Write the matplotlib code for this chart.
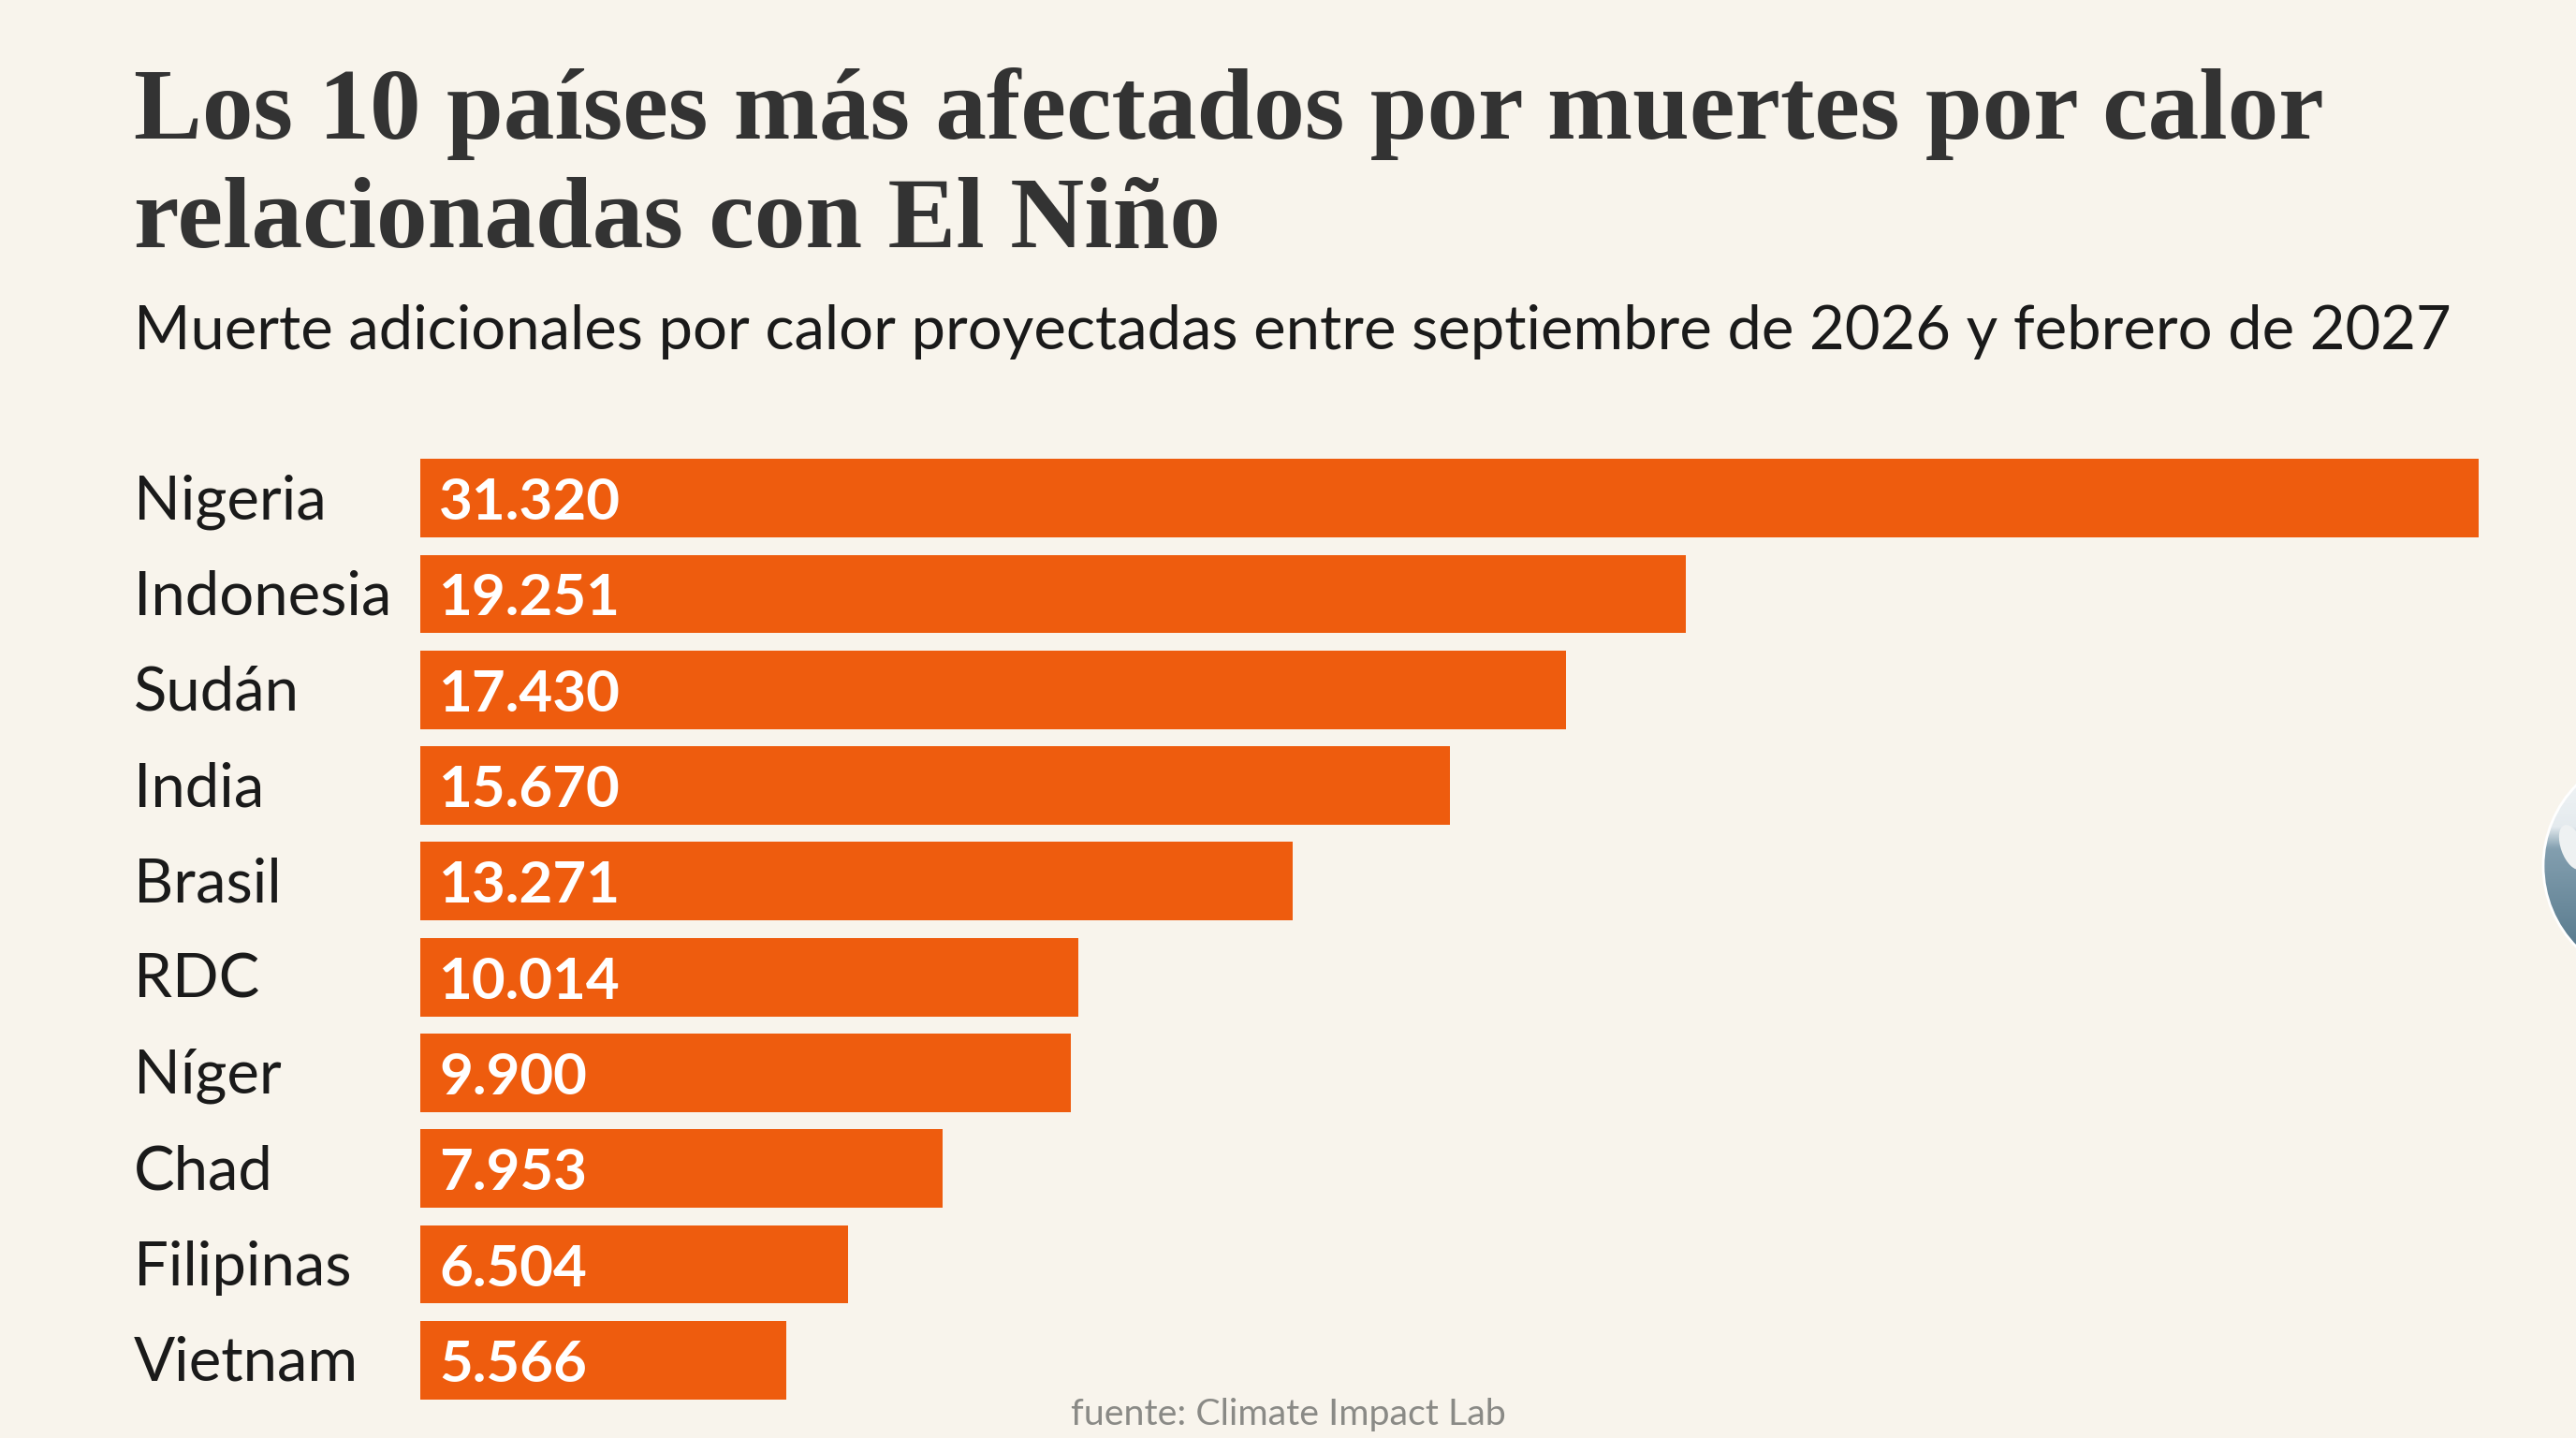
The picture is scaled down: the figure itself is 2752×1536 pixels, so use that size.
import numpy as np
import matplotlib
matplotlib.use("Agg")
import matplotlib.pyplot as plt
from matplotlib.colors import LinearSegmentedColormap
from matplotlib.patches import Circle, Ellipse

countries = ["Nigeria", "Indonesia", "Sudán", "India", "Brasil", "RDC", "Níger", "Chad", "Filipinas", "Vietnam"]
deaths = [31320, 19251, 17430, 15670, 13271, 10014, 9900, 7953, 6504, 5566]
value_labels = ["31.320", "19.251", "17.430", "15.670", "13.271", "10.014", "9.900", "7.953", "6.504", "5.566"]
title = "Los 10 países más afectados por muertes por calor\nrelacionadas con El Niño"
subtitle = "Muerte adicionales por calor proyectadas entre septiembre de 2026 y febrero de 2027"
source = "fuente: Climate Impact Lab"

W, H = 2752, 1536
BG = "#F8F4EC"
ORANGE = "#EE5C0E"
fig = plt.figure(figsize=(W / 200, H / 200), dpi=200, facecolor=BG)
ax = fig.add_axes([449 / W, 1 - 1504 / H, (2648 - 449) / W, (1504 - 481) / H])
ax.set_facecolor("none")
y = list(range(len(countries)))
ax.barh(y, deaths, height=0.82, color=ORANGE, linewidth=0)
ax.set_xlim(0, 31320)
ax.set_ylim(len(countries) - 0.5, -0.5)
ax.axis("off")
sans = ["Lato", "DejaVu Sans"]
for i, (c, lab) in enumerate(zip(countries, value_labels)):
    ax.annotate(c, (0, i), xytext=(-306, 2), textcoords="offset pixels", va="center_baseline", ha="left",
                fontsize=23.5, color="#1A1A1A", family=sans)
    ax.annotate(lab, (0, i), xytext=(20, 0), textcoords="offset pixels", va="center_baseline", ha="left",
                fontsize=22.3, color="white", family=sans, fontweight="bold")
fig.text(143 / W, 1 - 264 / H, title, fontsize=39.4, fontweight="bold", family=["Liberation Serif", "DejaVu Serif"],
         color="#333333", va="baseline", ha="left", linespacing=1.24)
fig.text(143 / W, 1 - 373 / H, subtitle, fontsize=23.45, family=sans, color="#1A1A1A", va="baseline", ha="left")
fig.text(1376 / W, 1 - 1522 / H, source, fontsize=14.2, family=sans, color="#8A8A86", va="baseline", ha="center")

# decorative globe peeking in at the right edge
gx = fig.add_axes([2700 / W, 1 - 1030 / H, 52 / W, 210 / H])
gx.set_xlim(2700, 2752)
gx.set_ylim(1030, 820)
gx.axis("off")
shade = np.interp(np.linspace(0, 1, 256), [0, 0.3, 0.42, 1], [0.97, 0.93, 0.66, 0.42])[:, None]
globe = Circle((2840, 925), 123, transform=gx.transData, facecolor="none", edgecolor="#FFFFFF", linewidth=1)
cmap = LinearSegmentedColormap.from_list("g", ["#4F7286", "#8AA5B5", "#FFFFFF"])
img = gx.imshow(shade, extent=(2700, 2752, 1030, 820), aspect="auto", cmap=cmap, vmin=0.4, vmax=1)
gx.add_patch(globe)
img.set_clip_path(globe)
land = Ellipse((2748, 905), 24, 50, angle=-20, facecolor="#EEF1F2", edgecolor="none", transform=gx.transData)
gx.add_patch(land)
land.set_clip_path(globe)
fig.savefig("out.png", dpi=200, facecolor=BG)
